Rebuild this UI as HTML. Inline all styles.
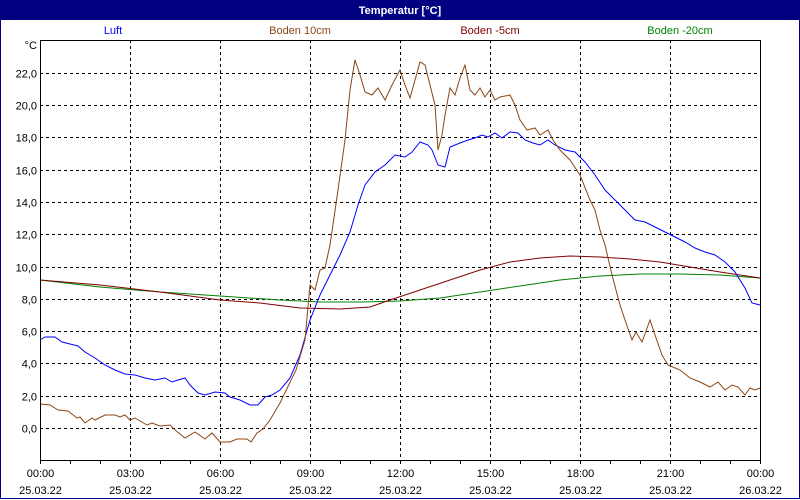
<!DOCTYPE html>
<html><head><meta charset="utf-8"><style>
body{margin:0;width:800px;height:500px;overflow:hidden;background:#fff}
svg{display:block;font-family:"Liberation Sans",sans-serif;font-size:11px}
</style></head><body>
<svg id="s" width="800" height="500" xmlns="http://www.w3.org/2000/svg">
<rect x="0" y="0" width="800" height="500" fill="#fff"/>
<rect x="0.5" y="0.5" width="799" height="498" fill="none" stroke="#000080"/>
<rect x="0" y="0" width="800" height="20" fill="#000080"/>
<text x="400" y="14" fill="#fff" font-weight="bold" text-anchor="middle">Temperatur [°C]</text>
<text x="113" y="34" fill="#0000ff" text-anchor="middle">Luft</text>
<text x="300" y="34" fill="#8b4513" text-anchor="middle">Boden 10cm</text>
<text x="490" y="34" fill="#800000" text-anchor="middle">Boden -5cm</text>
<text x="680" y="34" fill="#008000" text-anchor="middle">Boden -20cm</text>
<text x="37" y="49" text-anchor="end">°C</text>
<g id="grid"></g>
<g id="series" fill="none" stroke-width="1"></g>
<path d="M40.5 40V460.5H760.5V460" fill="none" stroke="#000"/>
<line x1="40" y1="40.5" x2="760" y2="40.5" stroke="#000"/>
<line x1="760.5" y1="40" x2="760.5" y2="460" stroke="#000"/>
</svg>
<script>
var NS="http://www.w3.org/2000/svg",g=document.getElementById('grid'),se=document.getElementById('series');
function el(t,a,p,txt){var e=document.createElementNS(NS,t);for(var k in a)e.setAttribute(k,a[k]);if(txt)e.textContent=txt;p.appendChild(e);return e;}
for(var v=0;v<=22;v+=2){var y=Math.round(428-v*16.14)+0.5;
el('line',{x1:40,y1:y,x2:760,y2:y,stroke:'#000','stroke-dasharray':'3,3'},g);
el('text',{x:37,y:y+4,'text-anchor':'end'},g,(v.toFixed(1)).replace('.',','));}
var times=['00:00','03:00','06:00','09:00','12:00','15:00','18:00','21:00','00:00'];
for(var i=0;i<=8;i++){var x=40+90*i+0.5;
if(i>0&&i<8)el('line',{x1:x,y1:40,x2:x,y2:460,stroke:'#000','stroke-dasharray':'3,3'},g);
el('text',{x:x,y:477,'text-anchor':'middle'},g,times[i]);
el('text',{x:x,y:494,'text-anchor':'middle'},g,i==8?'26.03.22':'25.03.22');}
for(var h=0;h<=24;h++){var x=40+30*h+0.5;el('line',{x1:x,y1:460,x2:x,y2:464,stroke:'#000'},g);}
var S={
'#008000':[40,280,100,287,160,292,220,296,280,300,320,302,360,302,400,301,440,298,480,292,520,286,560,280,600,276,640,274,680,274,720,275,760,278],
'#800000':[40,280,100,285,160,292,220,300,260,303,300,308,340,309,370,307,390,300,420,290,450,280,480,270,510,262,540,258,570,256,600,257,630,259,660,262,690,267,720,272,760,278],
'#0000ff':[40,340,45,337,55,337,62,342,70,344,78,346,85,352,95,358,105,365,115,370,125,374,135,375,145,378,155,380,165,378,172,382,178,380,185,378,190,385,198,393,205,395,215,392,225,393,230,397,240,400,250,405,258,405,265,397,272,395,280,390,290,378,300,355,310,320,320,295,330,275,340,255,350,232,358,205,365,185,375,172,385,165,395,155,405,157,412,152,420,142,428,145,432,150,438,165,445,167,450,147,460,143,468,140,475,138,482,135,488,137,495,133,502,138,510,132,518,133,525,140,533,143,540,145,548,140,555,145,565,150,575,152,585,162,595,175,605,190,615,200,625,210,635,220,645,222,655,227,665,232,675,237,685,242,695,248,705,252,715,255,725,262,735,272,745,288,752,303,760,305],
'#8b4513':[40,404,50,405,58,410,68,411,77,418,80,417,85,423,92,418,95,420,105,415,115,415,120,417,125,415,130,420,135,418,147,425,152,423,160,426,170,425,175,430,185,438,195,432,205,439,212,433,220,442,230,442,237,439,247,439,251,442,257,433,263,429,270,420,280,403,296,370,305,340,310,285,315,290,320,270,325,268,330,245,338,190,345,140,350,90,355,60,360,75,365,92,372,95,378,88,385,100,392,85,400,70,405,85,410,98,415,80,420,62,425,65,430,85,435,105,438,150,442,135,445,115,450,88,455,95,460,78,465,65,470,90,475,95,480,88,485,97,490,90,495,100,500,97,510,95,515,105,520,120,527,130,535,128,540,135,548,130,553,140,560,150,570,160,580,175,590,200,595,210,600,230,605,245,612,275,620,305,625,320,632,340,636,332,642,342,650,320,655,335,662,355,668,365,680,370,690,378,700,382,710,387,718,382,725,390,732,385,738,387,745,395,750,388,755,390,760,388]};
for(var c in S){var p=S[c],pts=[];for(var i=0;i<p.length;i+=2)pts.push(p[i]+','+p[i+1]);
el('polyline',{points:pts.join(' '),stroke:c},se);}
</script>
</body></html>
